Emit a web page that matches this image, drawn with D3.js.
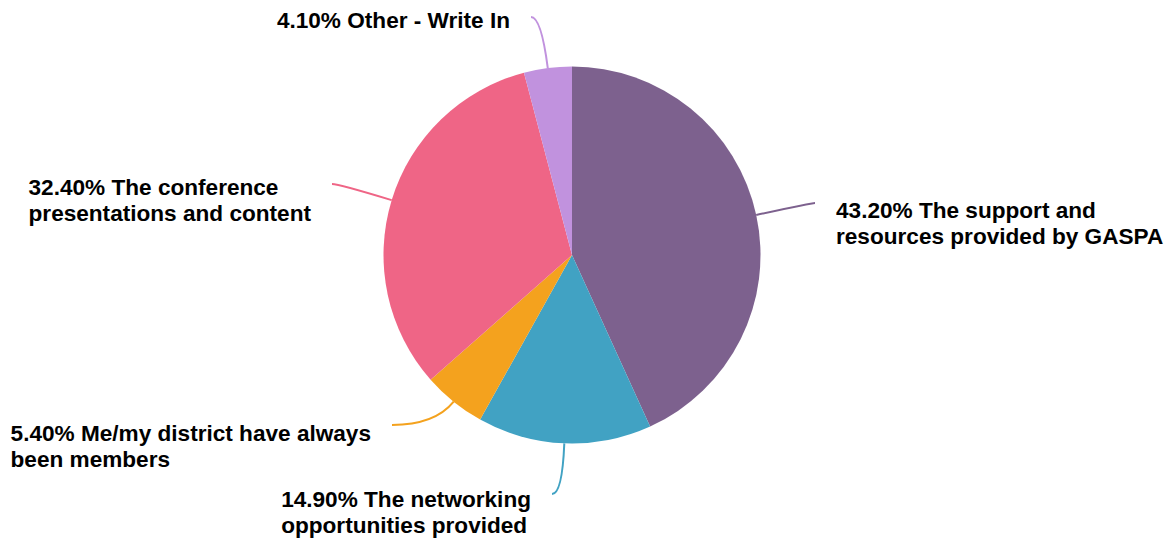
<!DOCTYPE html>
<html>
<head>
<meta charset="utf-8">
<script src="https://cdn.jsdelivr.net/npm/d3@7"></script>
<style>
  html, body { margin: 0; padding: 0; background: #fff; }
  svg text { font-family: "Liberation Sans", Arial, Helvetica, sans-serif; font-weight: bold; font-size: 22.6px; fill: #000; }
</style>
</head>
<body>
<svg id="chart" width="1172" height="541"></svg>
<script>
// Survey answers, clockwise from 12 o'clock
const categories = [
  "The support and resources provided by GASPA",
  "The networking opportunities provided",
  "Me/my district have always been members",
  "The conference presentations and content",
  "Other - Write In"
];
const values = [43.2, 14.9, 5.4, 32.4, 4.1];
const colors = ["#7d618e", "#41a2c3", "#f4a21e", "#ef6586", "#c192de"];

// Label text split into lines
const labelLines = [
  ["43.20% The support and", "resources provided by GASPA"],
  ["14.90% The networking", "opportunities provided"],
  ["5.40% Me/my district have always", "been members"],
  ["32.40% The conference", "presentations and content"],
  ["4.10% Other - Write In"]
];

// Leader-line end points and text placement
const layout = [
  { end: [815, 203], side: "right", base: 218 },
  { end: [552, 494], side: "left",  base: 507 },
  { end: [392, 425], side: "left",  base: 441 },
  { end: [332, 184], side: "left",  base: 195 },
  { end: [531, 17],  side: "left",  base: 28 }
];

const cx = 572, cy = 255, r = 188.5;
const gap = 21, lineH = 26;

const svg = d3.select("#chart");
const g = svg.append("g").attr("transform", `translate(${cx},${cy})`);

const pie = d3.pie().sort(null).value(d => d);
const arcs = pie(values);
const arc = d3.arc().innerRadius(0).outerRadius(r);

g.selectAll("path.slice")
  .data(arcs)
  .join("path")
  .attr("class", "slice")
  .attr("d", arc)
  .attr("fill", (d, i) => colors[i]);

// Leader lines: leave the rim radially, bend to horizontal
arcs.forEach((a, i) => {
  const mid = (a.startAngle + a.endAngle) / 2;
  const dx = Math.sin(mid), dy = -Math.cos(mid);
  const sx = cx + dx * r, sy = cy + dy * r;
  const [ex, ey] = layout[i].end;
  const t = (ey - sy) / dy;
  const kx = sx + dx * t;
  const ky = ey;
  const p = d3.path();
  p.moveTo(sx, sy);
  p.quadraticCurveTo(kx, ky, ex, ey);
  svg.append("path")
    .attr("d", p.toString())
    .attr("fill", "none")
    .attr("stroke", colors[i])
    .attr("stroke-width", 2);
});

// Labels: left-aligned blocks placed beside the leader end
labelLines.forEach((lines, i) => {
  const L = layout[i];
  const txt = svg.append("text");
  lines.forEach((s, k) => {
    txt.append("tspan").attr("x", 0).attr("y", L.base + k * lineH).text(s);
  });
  const w = d3.max(txt.selectAll("tspan").nodes(), n => n.getComputedTextLength());
  const x0 = L.side === "right" ? L.end[0] + gap : L.end[0] - gap - w;
  txt.selectAll("tspan").attr("x", x0);
});
</script>
</body>
</html>
